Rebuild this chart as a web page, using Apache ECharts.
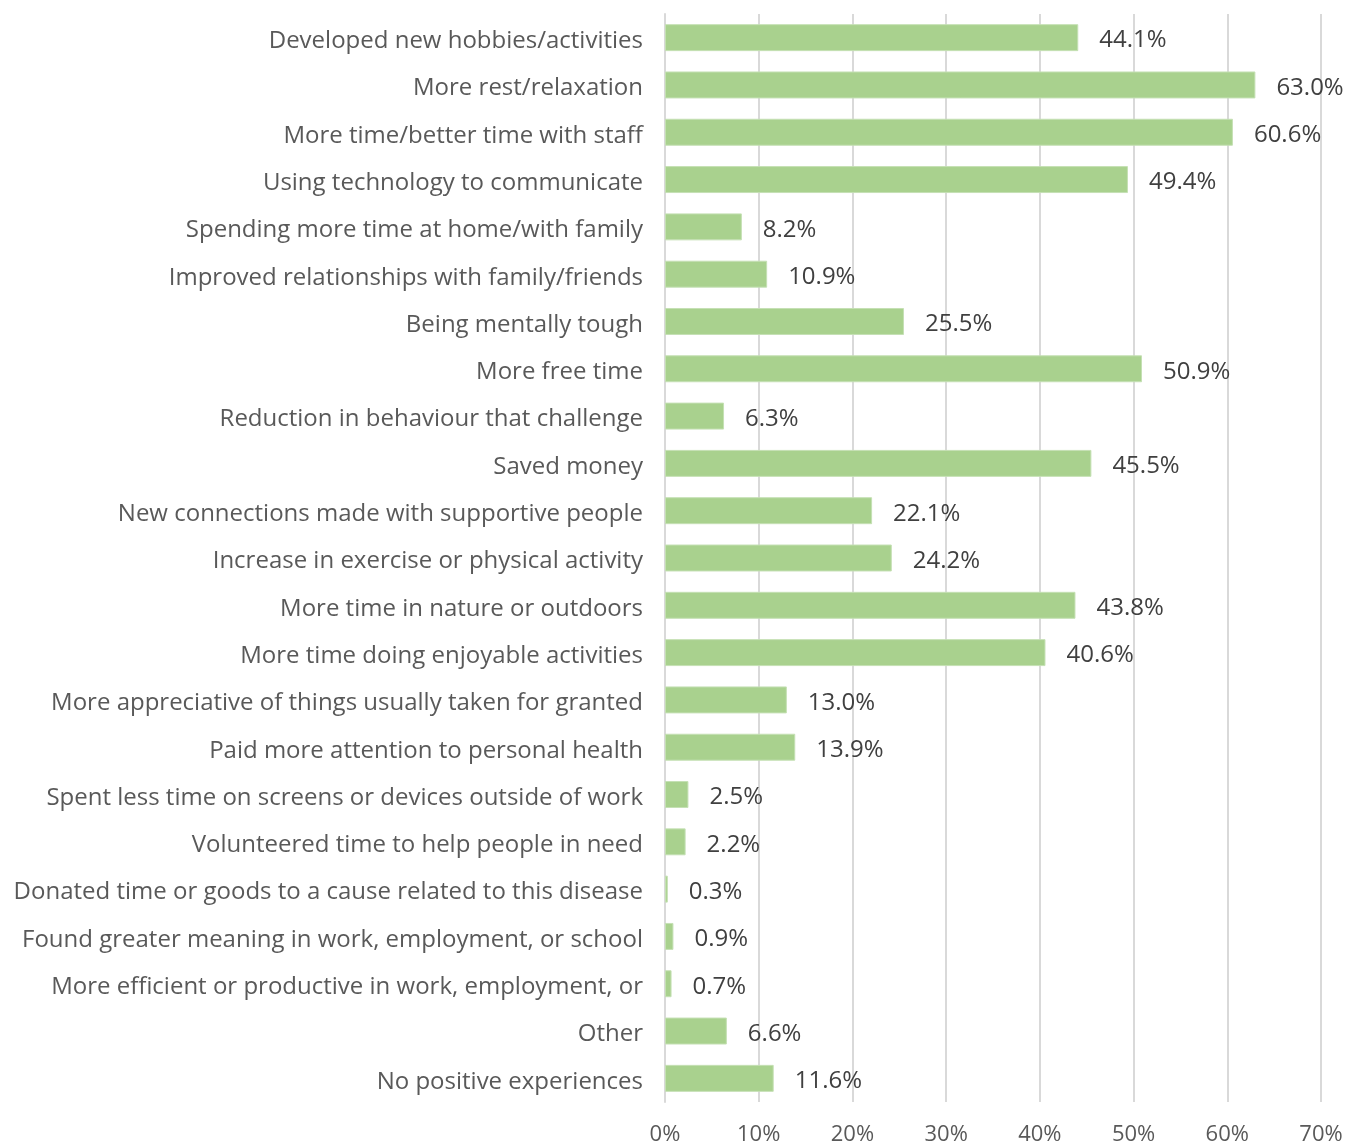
<!DOCTYPE html>
<html>
<head>
<meta charset="utf-8">
<script src="https://cdn.jsdelivr.net/npm/echarts@6/dist/echarts.min.js"></script>
<style>
  html, body { margin: 0; padding: 0; background: #ffffff; }
  #chart { width: 1349px; height: 1142px; }
</style>
</head>
<body>
<div id="chart"></div>
<script>
const categories = [
  'Developed new hobbies/activities',
  'More rest/relaxation',
  'More time/better time with staff',
  'Using technology to communicate',
  'Spending more time at home/with family',
  'Improved relationships with family/friends',
  'Being mentally tough',
  'More free time',
  'Reduction in behaviour that challenge',
  'Saved money',
  'New connections made with supportive people',
  'Increase in exercise or physical activity',
  'More time in nature or outdoors',
  'More time doing enjoyable activities',
  'More appreciative of things usually taken for granted',
  'Paid more attention to personal health',
  'Spent less time on screens or devices outside of work',
  'Volunteered time to help people in need',
  'Donated time or goods to a cause related to this disease',
  'Found greater meaning in work, employment, or school',
  'More efficient or productive in work, employment, or',
  'Other',
  'No positive experiences'
];
const percentages = [44.1, 63.0, 60.6, 49.4, 8.2, 10.9, 25.5, 50.9, 6.3, 45.5, 22.1, 24.2, 43.8, 40.6, 13.0, 13.9, 2.5, 2.2, 0.3, 0.9, 0.7, 6.6, 11.6];

const FONT = '"Open Sans", sans-serif';
const chart = echarts.init(document.getElementById('chart'));
chart.setOption({
  animation: false,
  backgroundColor: '#ffffff',
  grid: { left: 665, right: 28, top: 14, bottom: 40, containLabel: false, outerBoundsMode: 'none' },
  xAxis: {
    type: 'value', min: 0, max: 70, interval: 10,
    axisLine: { show: false },
    axisTick: { show: false },
    axisLabel: { formatter: '{value}%', color: '#595959', fontFamily: FONT, fontSize: 22, margin: 22 },
    splitLine: { show: true, lineStyle: { color: '#d9d9d9', width: 2 } }
  },
  yAxis: {
    type: 'category', inverse: true, data: categories,
    axisLine: { show: true, lineStyle: { color: '#d9d9d9', width: 2 } },
    axisTick: { show: false },
    axisLabel: {
      margin: 22,
      formatter: v => '{t|' + v + '}',
      rich: { t: { color: '#595959', fontFamily: FONT, fontSize: 24, padding: [7, 0, 0, 0] } }
    }
  },
  series: [{
    type: 'bar',
    data: percentages,
    barCategoryGap: '43%',
    itemStyle: { color: '#a9d18e', borderColor: '#c5e0b4', borderWidth: 1 },
    label: {
      show: true, position: 'right', distance: 21, offset: [0, 3],
      formatter: p => p.value.toFixed(1) + '%',
      color: '#404040', fontFamily: FONT, fontSize: 24
    }
  }]
});
</script>
</body>
</html>
